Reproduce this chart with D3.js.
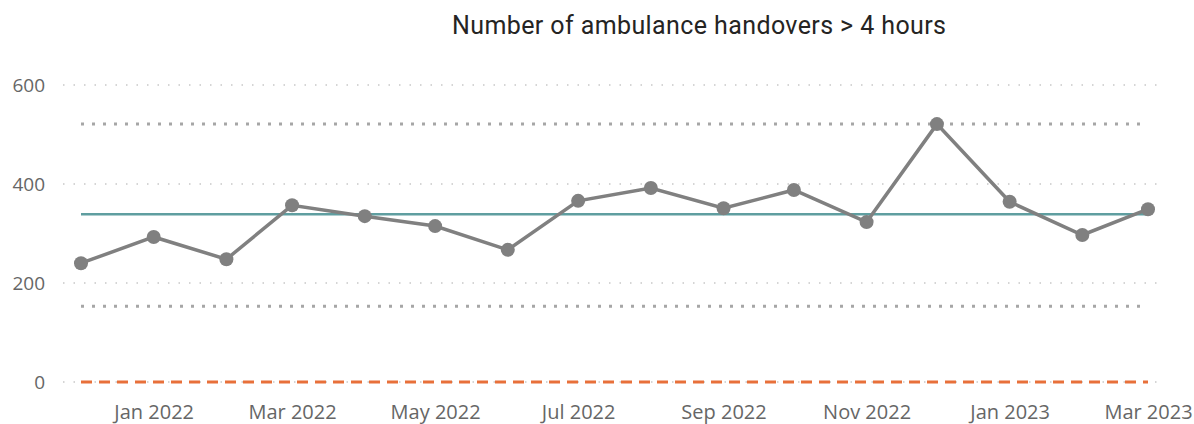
<!DOCTYPE html>
<html><head><meta charset="utf-8">
<script src="https://cdn.jsdelivr.net/npm/d3@7"></script>
<style>body{margin:0;background:#fff}svg{display:block}</style>
</head><body>
<svg id="c" width="1194" height="424"></svg>
<script>
const months = ["2021-12","2022-01","2022-02","2022-03","2022-04","2022-05","2022-06","2022-07","2022-08","2022-09","2022-10","2022-11","2022-12","2023-01","2023-02","2023-03"];
const handovers = [240,293,248,357,335,315,267,366,392,351,388,323,521,364,297,349];
const meanValue = [339];
const upperLimit = [521];
const lowerLimit = [153];
const targetValue = [0];
const yTicks = [0,200,400,600];
const xTickLabels = ["Jan 2022","Mar 2022","May 2022","Jul 2022","Sep 2022","Nov 2022","Jan 2023","Mar 2023"];

const parse = d3.timeParse("%Y-%m");
const dates = months.map(parse);
const data = dates.map((d,i)=>({date:d,value:handovers[i]}));

const svg = d3.select("#c");
const x = d3.scaleTime().domain(d3.extent(dates)).range([81,1148]);
const y = d3.scaleLinear().domain([0,600]).range([382,85]);

svg.append("text").attr("x",699).attr("y",34).attr("text-anchor","middle")
  .attr("font-family","Roboto, 'DejaVu Sans', sans-serif").attr("font-size",25)
  .attr("textLength",494).attr("lengthAdjust","spacing")
  .attr("fill","#252423").text("Number of ambulance handovers > 4 hours");

// gridlines
svg.append("g").selectAll("line").data(yTicks).join("line")
  .attr("x1",63).attr("x2",1163).attr("y1",d=>y(d)).attr("y2",d=>y(d))
  .attr("stroke","#c8c8c8").attr("stroke-width",1.5).attr("stroke-dasharray","1.5,9");

// y axis labels
const ya = svg.append("g").attr("transform","translate(45,0)")
  .call(d3.axisLeft(y).tickValues(yTicks).tickSize(0).tickPadding(0));
ya.select(".domain").remove();
ya.selectAll("text").attr("font-family","'Open Sans', sans-serif").attr("font-size",19).attr("fill","#666");

// x axis labels
const tickDates = xTickLabels.map(d3.timeParse("%b %Y"));
const xa = svg.append("g").attr("transform","translate(0,405)")
  .call(d3.axisBottom(x).tickValues(tickDates).tickFormat(d3.timeFormat("%b %Y")).tickSize(0).tickPadding(0));
xa.select(".domain").remove();
xa.selectAll("text").attr("font-family","'Open Sans', sans-serif").attr("font-size",20).attr("fill","#666").attr("dy","0.7em");

const [x0,x1] = x.range();
// limits
svg.append("g").selectAll("line").data(upperLimit.concat(lowerLimit)).join("line")
  .attr("x1",x0).attr("x2",x1).attr("y1",d=>y(d)).attr("y2",d=>y(d))
  .attr("stroke","#a6a6a6").attr("stroke-width",3).attr("stroke-dasharray","3,8");
// target
svg.append("g").selectAll("line").data(targetValue).join("line")
  .attr("x1",x0).attr("x2",x1).attr("y1",d=>y(d)).attr("y2",d=>y(d))
  .attr("stroke","#E8703A").attr("stroke-width",3).attr("stroke-dasharray","11,7");
// mean
svg.append("g").selectAll("line").data(meanValue).join("line")
  .attr("x1",x0).attr("x2",x1).attr("y1",d=>y(d)).attr("y2",d=>y(d))
  .attr("stroke","#5F9EA0").attr("stroke-width",2.5);

// series
svg.append("path").datum(data)
  .attr("d",d3.line().x(d=>x(d.date)).y(d=>y(d.value)))
  .attr("fill","none").attr("stroke","#808080").attr("stroke-width",3.5);
svg.append("g").selectAll("circle").data(data).join("circle")
  .attr("cx",d=>x(d.date)).attr("cy",d=>y(d.value)).attr("r",7).attr("fill","#808080");
</script>
</body></html>
